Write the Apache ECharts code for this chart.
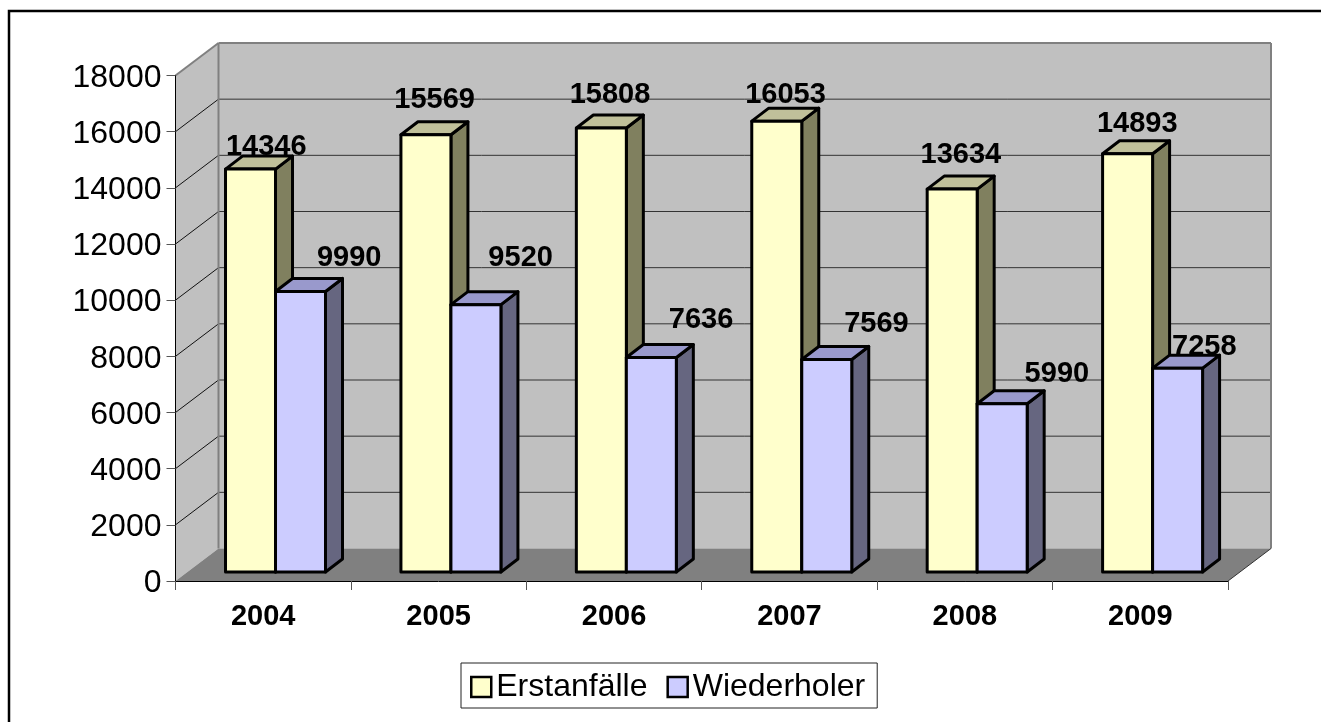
<!DOCTYPE html>
<html>
<head>
<meta charset="utf-8">
<style>
html,body{margin:0;padding:0;background:#fff;}
#chart{width:1321px;height:722px;}
</style>
<script src="https://cdn.jsdelivr.net/npm/echarts@6/dist/echarts.min.js"></script>
</head>
<body>
<div id="chart"></div>
<script>
var years = ['2004', '2005', '2006', '2007', '2008', '2009'];
var erstanfaelle = [14346, 15569, 15808, 16053, 13634, 14893];
var wiederholer = [9990, 9520, 7636, 7569, 5990, 7258];
var yTicks = [0, 2000, 4000, 6000, 8000, 10000, 12000, 14000, 16000, 18000];

// hand placed data labels, offset from the bar's value point (as in the original)
var erstLabelNudge = [[3, -31], [-4, -44], [-4, -42], [-4, -35], [-4, -43], [-3, -39]];
var wiederLabelNudge = [[86, -42], [82, -56], [87, -47], [87, -44], [92, -39], [64, -30]];

var FONT = '"Liberation Sans", Arial, sans-serif';
var WALL_DX = 43, WALL_DY = -32.5;   // depth of the fake 3d box
var BAR_DX = 17, BAR_DY = -13;       // depth of one bar
var BASE_DX = 12.3, BASE_DY = -9;    // bars stand a bit behind the front edge
var BAR_W = 0.285;                   // of one category band

function poly(points, fill, stroke, width) {
  return {
    type: 'polygon',
    shape: {points: points},
    style: {fill: fill, stroke: stroke || null, lineWidth: width || 0, lineJoin: 'round'}
  };
}
function line(x1, y1, x2, y2, color, width) {
  return {
    type: 'line',
    shape: {x1: x1, y1: y1, x2: x2, y2: y2},
    style: {stroke: color, lineWidth: width}
  };
}

function renderWalls(params, api) {
  var c = params.coordSys;
  var l = c.x, r = c.x + c.width, t = c.y, b = c.y + c.height;
  var kids = [
    poly([[l, t], [l + WALL_DX, t + WALL_DY], [l + WALL_DX, b + WALL_DY], [l, b]], '#c0c0c0'),
    poly([[l + WALL_DX, t + WALL_DY], [r + WALL_DX, t + WALL_DY], [r + WALL_DX, b + WALL_DY], [l + WALL_DX, b + WALL_DY]], '#c0c0c0'),
    poly([[l, b], [l + WALL_DX, b + WALL_DY], [r + WALL_DX, b + WALL_DY], [r, b]], '#808080')
  ];
  yTicks.forEach(function (v) {
    if (v === 0) return;
    var y = api.coord([0, v])[1];
    if (v < 18000) kids.push(line(l + WALL_DX, y + WALL_DY, r + WALL_DX, y + WALL_DY, '#333', 1));
    kids.push(line(l, y, l + WALL_DX, y + WALL_DY, v === 18000 ? '#808080' : '#111', v === 18000 ? 2 : 1));
  });
  kids.push(line(l + WALL_DX, t + WALL_DY, r + WALL_DX, t + WALL_DY, '#808080', 2));
  kids.push(line(l + WALL_DX, t + WALL_DY, l + WALL_DX, b + WALL_DY, '#808080', 2));
  kids.push(line(r + WALL_DX, t + WALL_DY, r + WALL_DX, b + WALL_DY, '#808080', 2));
  kids.push(line(r, b, r + WALL_DX, b + WALL_DY, '#333', 1));
  return {type: 'group', children: kids};
}

// slot: -1 = left bar of the pair, 0 = right bar
function barRenderer(slot, front, top, side, nudge) {
  return function (params, api) {
    var i = api.value(0), v = api.value(1);
    var p = api.coord([i, v]);
    var base = api.coord([i, 0]);
    var w = api.size([1, 0])[0] * BAR_W;
    var x0 = p[0] + BASE_DX + slot * w, x1 = x0 + w;
    var yTop = p[1] + BASE_DY, yBot = base[1] + BASE_DY;
    var stroke = '#000', sw = 3;
    return {
      type: 'group',
      children: [
        poly([[x1, yTop], [x1 + BAR_DX, yTop + BAR_DY], [x1 + BAR_DX, yBot + BAR_DY], [x1, yBot]], side, stroke, sw),
        poly([[x0, yTop], [x0 + BAR_DX, yTop + BAR_DY], [x1 + BAR_DX, yTop + BAR_DY], [x1, yTop]], top, stroke, sw),
        poly([[x0, yTop], [x1, yTop], [x1, yBot], [x0, yBot]], front, stroke, sw),
        {
          type: 'text',
          z2: 100,
          x: p[0] + nudge[i][0],
          y: p[1] + nudge[i][1],
          style: {
            text: String(v),
            font: 'bold 29px ' + FONT,
            fill: '#000',
            align: 'center',
            verticalAlign: 'middle'
          }
        }
      ]
    };
  };
}

function pairs(values) {
  return values.map(function (v, i) { return [i, v]; });
}

var chart = echarts.init(document.getElementById('chart'));
chart.setOption({
  animation: false,
  backgroundColor: '#fff',
  textStyle: {fontFamily: FONT},
  grid: {left: 175.5, right: 93, top: 75.5, bottom: 141, containLabel: false},
  graphic: [{
    type: 'polyline',
    silent: true,
    shape: {points: [[9, 722], [9, 11], [1321, 11]]},
    style: {stroke: '#000', lineWidth: 2.5, fill: null}
  }],
  legend: {
    left: 461,
    top: 663,
    orient: 'horizontal',
    selectedMode: false,
    itemWidth: 20,
    itemHeight: 20,
    itemGap: 19,
    padding: [8, 12, 5, 9],
    borderColor: '#222',
    borderWidth: 1,
    textStyle: {fontSize: 32, color: '#000', fontFamily: FONT},
    data: [
      {name: 'Erstanfälle', icon: 'rect', itemStyle: {color: '#ffffcc', borderColor: '#000', borderWidth: 2.5}},
      {name: 'Wiederholer', icon: 'rect', itemStyle: {color: '#ccccff', borderColor: '#000', borderWidth: 2.5}}
    ]
  },
  xAxis: {
    type: 'category',
    data: years,
    z: 5,
    axisLine: {lineStyle: {color: '#000', width: 1}},
    axisTick: {show: true, length: 9, lineStyle: {color: '#555', width: 1}},
    axisLabel: {fontSize: 29, fontWeight: 'bold', color: '#000', margin: 21, fontFamily: FONT},
    splitLine: {show: false}
  },
  yAxis: {
    type: 'value',
    min: 0,
    max: 18000,
    interval: 2000,
    z: 5,
    axisLine: {show: true, lineStyle: {color: '#000', width: 1}},
    axisTick: {show: true, length: 9, lineStyle: {color: '#555', width: 1}},
    axisLabel: {
      fontSize: 32,
      color: '#000',
      margin: 14,
      verticalAlign: 'top',
      lineHeight: 5,
      fontFamily: FONT,
      formatter: function (v) { return String(v); }
    },
    splitLine: {show: false}
  },
  series: [
    {
      type: 'custom',
      name: 'walls',
      silent: true,
      z: 1,
      coordinateSystem: 'cartesian2d',
      renderItem: renderWalls,
      data: [[0, 0]]
    },
    {
      type: 'custom',
      name: 'Erstanfälle',
      silent: true,
      z: 2,
      coordinateSystem: 'cartesian2d',
      itemStyle: {color: '#ffffcc'},
      encode: {x: 0, y: 1},
      renderItem: barRenderer(-1, '#ffffcc', '#c0c09a', '#80805f', erstLabelNudge),
      data: pairs(erstanfaelle)
    },
    {
      type: 'custom',
      name: 'Wiederholer',
      silent: true,
      z: 2,
      coordinateSystem: 'cartesian2d',
      itemStyle: {color: '#ccccff'},
      encode: {x: 0, y: 1},
      renderItem: barRenderer(0, '#ccccff', '#9999cc', '#666680', wiederLabelNudge),
      data: pairs(wiederholer)
    }
  ]
});
</script>
</body>
</html>
